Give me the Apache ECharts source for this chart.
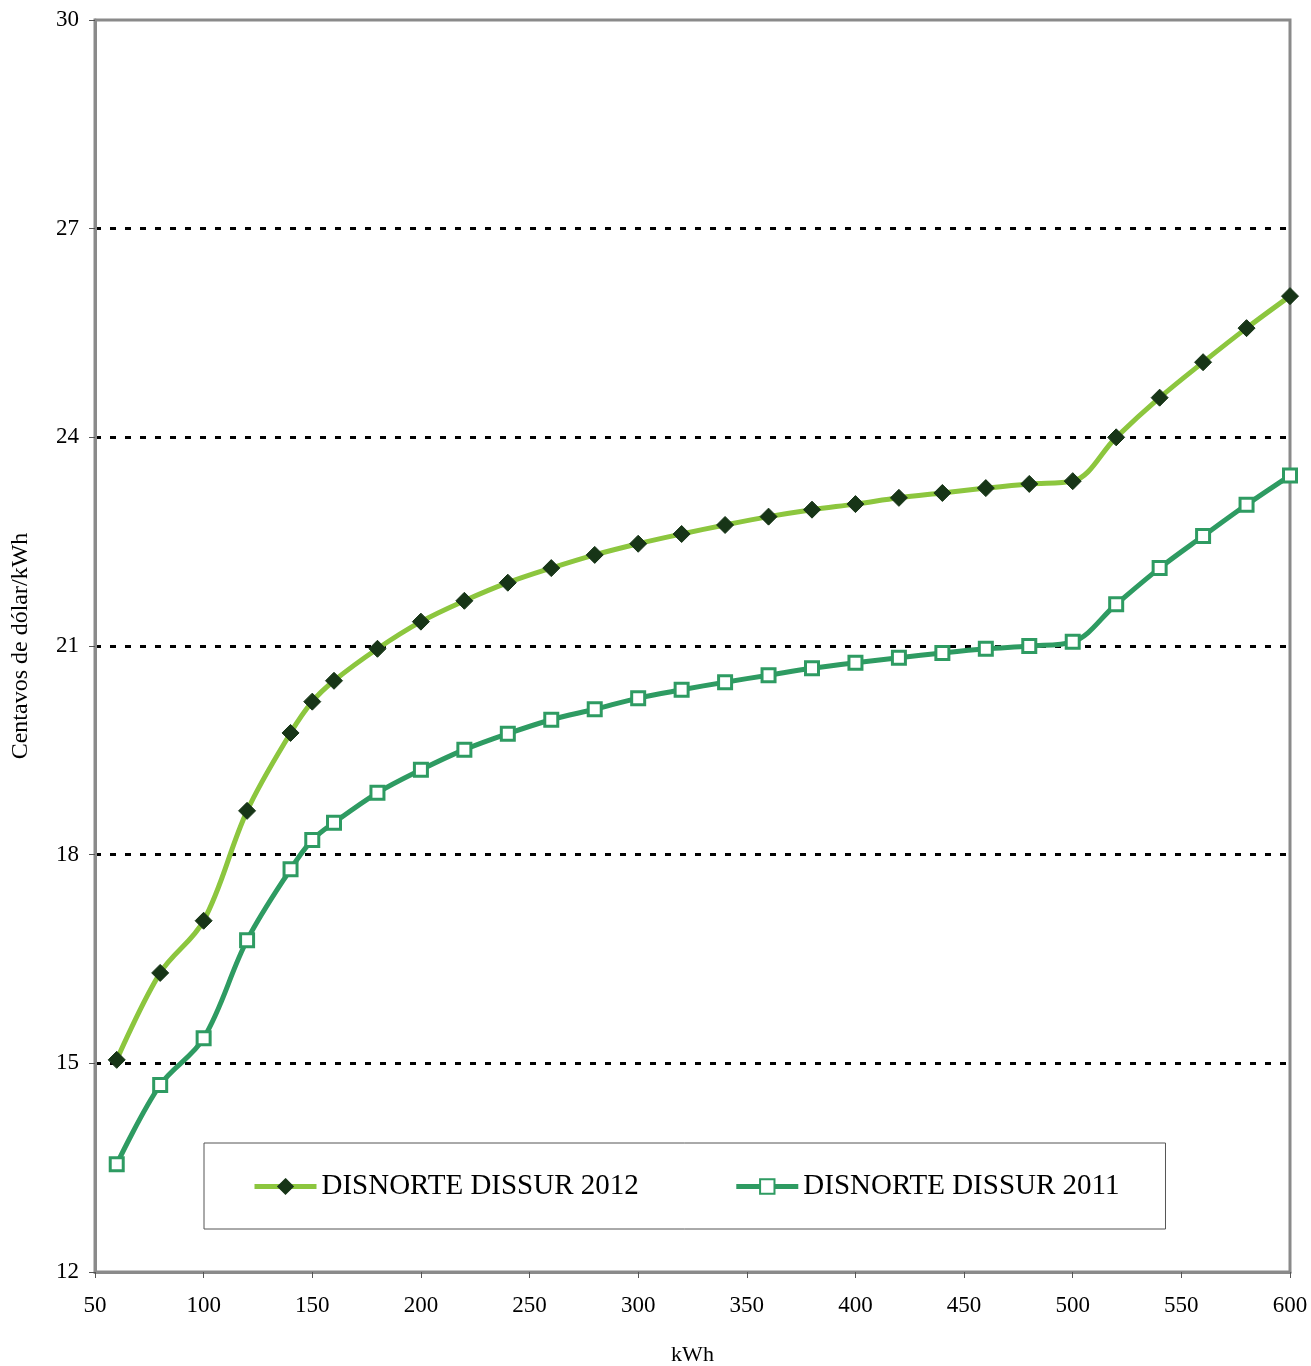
<!DOCTYPE html>
<html>
<head>
<meta charset="utf-8">
<script src="https://cdn.jsdelivr.net/npm/echarts@6/dist/echarts.min.js"></script>
<style>
  html, body { margin: 0; padding: 0; background: #fff; }
  #chart { width: 1311px; height: 1366px; }
</style>
</head>
<body>
<div id="chart"></div>
<script>
const kwh = [60, 80, 100, 120, 140, 150, 160, 180, 200, 220, 240, 260, 280, 300, 320, 340, 360, 380, 400, 420, 440, 460, 480, 500, 520, 540, 560, 580, 600]
const tarifa2012 = [15.05, 16.30, 17.05, 18.63, 19.75, 20.20, 20.50, 20.96, 21.35, 21.65, 21.91, 22.12, 22.31, 22.47, 22.61, 22.74, 22.86, 22.96, 23.04, 23.13, 23.20, 23.27, 23.33, 23.37, 24.00, 24.57, 25.08, 25.57, 26.03]
const tarifa2011 = [13.55, 14.69, 15.36, 16.77, 17.79, 18.21, 18.46, 18.89, 19.22, 19.51, 19.74, 19.94, 20.09, 20.25, 20.37, 20.48, 20.58, 20.68, 20.76, 20.83, 20.90, 20.96, 21.00, 21.06, 21.60, 22.12, 22.58, 23.03, 23.45]
const seriesNames = ['DISNORTE DISSUR 2012', 'DISNORTE DISSUR 2011']

const FONT = '"Liberation Serif", "DejaVu Serif", serif'
const zip = (xs, ys) => xs.map((x, i) => [x, ys[i]])

const chart = echarts.init(document.getElementById('chart'))
chart.setOption({
  animation: false,
  backgroundColor: '#fff',
  textStyle: { fontFamily: FONT },
  grid: {
    left: 95, right: 21, top: 20, bottom: 94,
    outerBoundsMode: 'none',
    containLabel: false,
    show: true, borderColor: '#8a8a8a', borderWidth: 3
  },
  legend: {
    left: 204, top: 1143,
    padding: [29, 46, 28, 48],
    itemGap: 95,
    itemWidth: 62, itemHeight: 18,
    borderColor: '#555', borderWidth: 1,
    lineStyle: { width: 5 },
    textStyle: { fontFamily: FONT, fontSize: 29, color: '#000' },
    data: seriesNames
  },
  xAxis: {
    type: 'value', min: 50, max: 600, interval: 50,
    name: 'kWh', nameLocation: 'middle', nameGap: 72,
    nameTextStyle: { fontFamily: FONT, fontSize: 22, color: '#000' },
    axisLine: { lineStyle: { color: '#8a8a8a', width: 3 } },
    axisTick: { length: 6, lineStyle: { color: '#555', width: 1 } },
    axisLabel: { fontFamily: FONT, fontSize: 23, color: '#000', margin: 22 },
    splitLine: { show: false }
  },
  yAxis: {
    type: 'value', min: 12, max: 30, interval: 3,
    name: 'Centavos de dólar/kWh', nameLocation: 'middle', nameGap: 62,
    nameTextStyle: { fontFamily: FONT, fontSize: 24, color: '#000' },
    axisLine: { show: true, lineStyle: { color: '#8a8a8a', width: 3 } },
    axisTick: { show: true, length: 6, lineStyle: { color: '#555', width: 1 } },
    axisLabel: { fontFamily: FONT, fontSize: 23, color: '#000', margin: 16 },
    splitLine: {
      show: true, showMinLine: false, showMaxLine: false,
      lineStyle: { color: '#000', width: 3, type: [6, 9] }
    }
  },
  series: [
    {
      name: seriesNames[0],
      type: 'line',
      smooth: 0.35,
      data: zip(kwh, tarifa2012),
      symbol: 'diamond',
      symbolSize: 17,
      lineStyle: { color: '#8cc63e', width: 5 },
      itemStyle: { color: '#173517', borderColor: '#173517', borderWidth: 1 },
      z: 3
    },
    {
      name: seriesNames[1],
      type: 'line',
      smooth: 0.35,
      data: zip(kwh, tarifa2011),
      symbol: 'rect',
      symbolSize: 13,
      lineStyle: { color: '#2e9b62', width: 5 },
      itemStyle: { color: '#fff', borderColor: '#2e9b62', borderWidth: 3 },
      z: 2
    }
  ]
})
</script>
</body>
</html>
